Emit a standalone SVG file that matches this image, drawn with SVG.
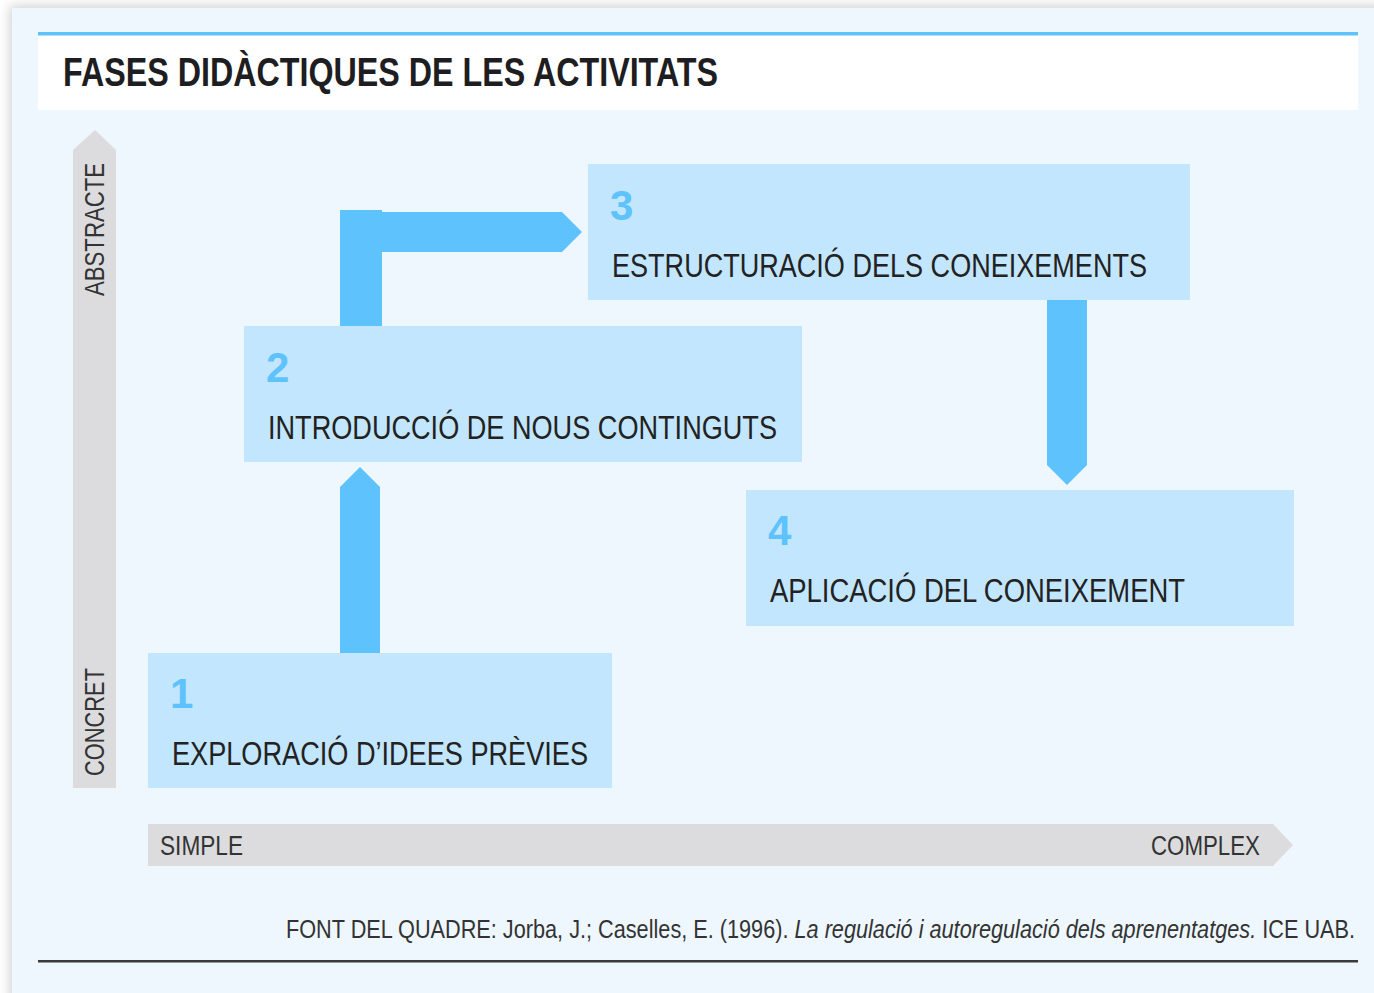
<svg xmlns="http://www.w3.org/2000/svg" width="1374" height="993" viewBox="0 0 1374 993">
  <defs>
    <filter id="sh" x="-5%" y="-5%" width="110%" height="110%">
      <feGaussianBlur stdDeviation="6"/>
    </filter>
    <style>
      .box { fill: #c2e6fd; }
      .arrow { fill: #5ec2fd; }
      .axis { fill: #dcdcde; }
      .num { font-family: "Liberation Sans", Arial, sans-serif; font-weight: bold; font-size: 42px; fill: #5ec2fd; }
      .lbl { font-family: "Liberation Sans", Arial, sans-serif; font-size: 33px; fill: #222222; }
      .ax { font-family: "Liberation Sans", Arial, sans-serif; font-size: 27px; fill: #333333; }
      .foot { font-family: "Liberation Sans", Arial, sans-serif; font-size: 25px; fill: #333333; }
    </style>
  </defs>
  <rect width="1374" height="993" fill="#ffffff"/>
  <rect x="10" y="6" width="1380" height="1000" fill="#cfcfcf" filter="url(#sh)"/>
  <rect x="12" y="8" width="1362" height="985" fill="#eef7fd"/>

  <g id="header">
    <rect x="38" y="35" width="1320" height="75" fill="#ffffff"/>
    <rect x="38" y="32" width="1320" height="3.5" fill="#5ec2fd"/>
    <text x="63" y="86" font-family="Liberation Sans, Arial, sans-serif" font-weight="bold" font-size="41" fill="#1d1d22" textLength="655" lengthAdjust="spacingAndGlyphs">FASES DIDÀCTIQUES DE LES ACTIVITATS</text>
  </g>

  <g id="axis-vertical">
    <polygon class="axis" points="73,788 73,150 95,130 116,150 116,788"/>
    <text class="ax" transform="translate(104,296) rotate(-90)" textLength="133" lengthAdjust="spacingAndGlyphs">ABSTRACTE</text>
    <text class="ax" transform="translate(104,776) rotate(-90)" textLength="108" lengthAdjust="spacingAndGlyphs">CONCRET</text>
  </g>

  <g id="axis-horizontal">
    <polygon class="axis" points="148,824 1273,824 1293,845 1273,866 148,866"/>
    <text class="ax" x="160" y="855" textLength="83" lengthAdjust="spacingAndGlyphs">SIMPLE</text>
    <text class="ax" x="1151" y="855" textLength="109" lengthAdjust="spacingAndGlyphs">COMPLEX</text>
  </g>

  <g id="connectors">
    <polygon class="arrow" points="340,653 340,487 360,467 380,487 380,653"/>
    <polygon class="arrow" points="340,326 340,210 382,210 382,212 562,212 582,232 562,252 382,252 382,326"/>
    <polygon class="arrow" points="1047,300 1087,300 1087,465 1067,485 1047,465"/>
  </g>

  <g id="node1">
    <rect class="box" x="148" y="653" width="464" height="135"/>
    <text class="num" x="170" y="708">1</text>
    <text class="lbl" x="172" y="765" textLength="416" lengthAdjust="spacingAndGlyphs">EXPLORACIÓ D’IDEES PRÈVIES</text>
  </g>

  <g id="node2">
    <rect class="box" x="244" y="326" width="558" height="136"/>
    <text class="num" x="266" y="382">2</text>
    <text class="lbl" x="268" y="439" textLength="509" lengthAdjust="spacingAndGlyphs">INTRODUCCIÓ DE NOUS CONTINGUTS</text>
  </g>

  <g id="node3">
    <rect class="box" x="588" y="164" width="602" height="136"/>
    <text class="num" x="610" y="220">3</text>
    <text class="lbl" x="612" y="277" textLength="535" lengthAdjust="spacingAndGlyphs">ESTRUCTURACIÓ DELS CONEIXEMENTS</text>
  </g>

  <g id="node4">
    <rect class="box" x="746" y="490" width="548" height="136"/>
    <text class="num" x="768" y="545">4</text>
    <text class="lbl" x="770" y="602" textLength="415" lengthAdjust="spacingAndGlyphs">APLICACIÓ DEL CONEIXEMENT</text>
  </g>

  <g id="footer">
    <text class="foot" x="286" y="938" textLength="1069" lengthAdjust="spacingAndGlyphs">FONT DEL QUADRE: Jorba, J.; Caselles, E. (1996). <tspan font-style="italic">La regulació i autoregulació dels aprenentatges.</tspan> ICE UAB.</text>
    <rect x="38" y="960" width="1320" height="2.5" fill="#3a3a3a"/>
  </g>
</svg>
